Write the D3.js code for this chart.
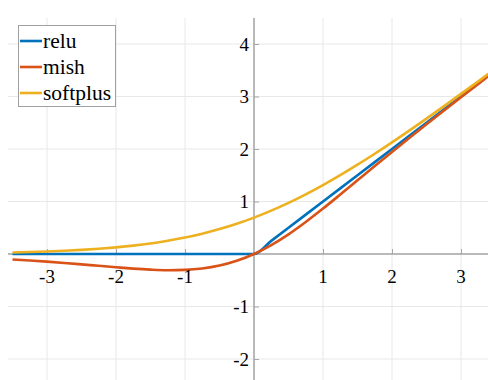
<!DOCTYPE html>
<html><head><meta charset="utf-8"><script src="https://cdn.jsdelivr.net/npm/d3@7"></script></head>
<body style="margin:0">
<svg id="s" width="488" height="380" style="display:block"></svg>
<script>
// ---- data ----
const xValues = [-3.5, -3.25, -3, -2.75, -2.5, -2.25, -2, -1.75, -1.5, -1.25, -1, -0.75, -0.5, -0.25,
                 0, 0.25, 0.5, 0.75, 1, 1.25, 1.5, 1.75, 2, 2.25, 2.5, 2.75, 3, 3.25, 3.5];
const reluValues = [0, 0, 0, 0, 0, 0, 0, 0, 0, 0, 0, 0, 0, 0,
                    0, 0.25, 0.5, 0.75, 1, 1.25, 1.5, 1.75, 2, 2.25, 2.5, 2.75, 3, 3.25, 3.5];
const mishValues = [-0.104, -0.124, -0.146, -0.170, -0.197, -0.225, -0.252, -0.278, -0.298, -0.309, -0.303, -0.277, -0.221, -0.130,
                    0, 0.170, 0.375, 0.610, 0.865, 1.132, 1.403, 1.675, 1.944, 2.209, 2.471, 2.730, 2.987, 3.241, 3.494];
const softplusValues = [0.030, 0.038, 0.049, 0.062, 0.079, 0.100, 0.127, 0.160, 0.201, 0.252, 0.313, 0.387, 0.474, 0.576,
                        0.693, 0.826, 0.974, 1.137, 1.313, 1.502, 1.701, 1.910, 2.127, 2.350, 2.579, 2.812, 3.049, 3.288, 3.530];
const seriesNames = ["relu", "mish", "softplus"];
const seriesColors = ["#0072BD", "#D95319", "#EDB120"];
const xTicks = [-3, -2, -1, 1, 2, 3];
const yTicks = [-2, -1, 1, 2, 3, 4];
const xGrid = [-3, -2, -1, 0, 1, 2, 3];
const yGrid = [-2, -1, 0, 1, 2, 3, 4];

// ---- layout ----
const svg = d3.select("#s");
const x = d3.scaleLinear().domain([-3.5, 3.5]).range([12.5, 495.5]);
const y = d3.scaleLinear().domain([-2.5, 4.5]).range([385.25, 17.75]);
const plotLeft = 8, plotTop = 18, plotRight = 488, plotBottom = 380;

// grid
const grid = svg.append("g");
grid.selectAll("line.vg").data(xGrid).enter().append("line")
  .attr("x1", d => x(d)).attr("x2", d => x(d))
  .attr("y1", plotTop).attr("y2", plotBottom)
  .attr("stroke", "#e8e8e8").attr("stroke-width", 1);
grid.selectAll("line.hg").data(yGrid).enter().append("line")
  .attr("x1", plotLeft).attr("x2", plotRight)
  .attr("y1", d => y(d)).attr("y2", d => y(d))
  .attr("stroke", "#e8e8e8").attr("stroke-width", 1);

// axes through origin (tick marks drawn by d3 axes)
const gx = svg.append("g").attr("transform", `translate(0,${y(0)})`)
  .call(d3.axisTop(x).tickValues(xTicks).tickSize(5).tickFormat(""));
gx.select(".domain").remove();
gx.selectAll(".tick line").attr("stroke", "#a6a6a6");
svg.append("line").attr("x1", plotLeft).attr("x2", plotRight)
  .attr("y1", y(0)).attr("y2", y(0)).attr("stroke", "#a6a6a6").attr("stroke-width", 1.3);

const gy = svg.append("g").attr("transform", `translate(${x(0)},0)`)
  .call(d3.axisRight(y).tickValues(yTicks).tickSize(5).tickFormat(""));
gy.select(".domain").remove();
gy.selectAll(".tick line").attr("stroke", "#a6a6a6");
svg.append("line").attr("x1", x(0)).attr("x2", x(0))
  .attr("y1", plotTop).attr("y2", plotBottom).attr("stroke", "#a6a6a6").attr("stroke-width", 1.5);

// lines
const allSeries = [reluValues, mishValues, softplusValues];
const line = d3.line().x((d, i) => x(xValues[i])).y(d => y(d)).curve(d3.curveMonotoneX);
svg.append("g").selectAll("path").data(allSeries).enter().append("path")
  .attr("d", d => line(d))
  .attr("fill", "none")
  .attr("stroke", (d, i) => seriesColors[i])
  .attr("stroke-width", 2.6)
  .attr("stroke-linejoin", "round");

// tick labels
svg.selectAll("text.xt").data(xTicks).enter().append("text")
  .attr("x", d => x(d)).attr("y", y(0) + 29)
  .attr("text-anchor", "middle").attr("font-size", 19)
  .style("font-family", '"Liberation Serif"')
  .text(d => d < 0 ? "-" + Math.abs(d) : String(d));
svg.selectAll("text.yt").data(yTicks).enter().append("text")
  .attr("x", x(0) - 5).attr("y", d => y(d) + 6.5)
  .attr("text-anchor", "end").attr("font-size", 19)
  .style("font-family", '"Liberation Serif"')
  .text(d => d < 0 ? "-" + Math.abs(d) : String(d));

// legend
svg.append("rect").attr("x", 18.5).attr("y", 25.5).attr("width", 97).attr("height", 81)
  .attr("fill", "#fff").attr("stroke", "#a0a0a0").attr("stroke-width", 1);
svg.selectAll("line.lg").data(seriesNames).enter().append("line")
  .attr("x1", 20).attr("x2", 42)
  .attr("y1", (d, i) => 41 + i * 26).attr("y2", (d, i) => 41 + i * 26)
  .attr("stroke", (d, i) => seriesColors[i]).attr("stroke-width", 2.6);
svg.selectAll("text.lg").data(seriesNames).enter().append("text")
  .attr("x", 43).attr("y", (d, i) => 48 + i * 26).attr("font-size", 21.5)
  .style("font-family", '"Liberation Serif"')
  .text(d => d);
</script></body></html>
